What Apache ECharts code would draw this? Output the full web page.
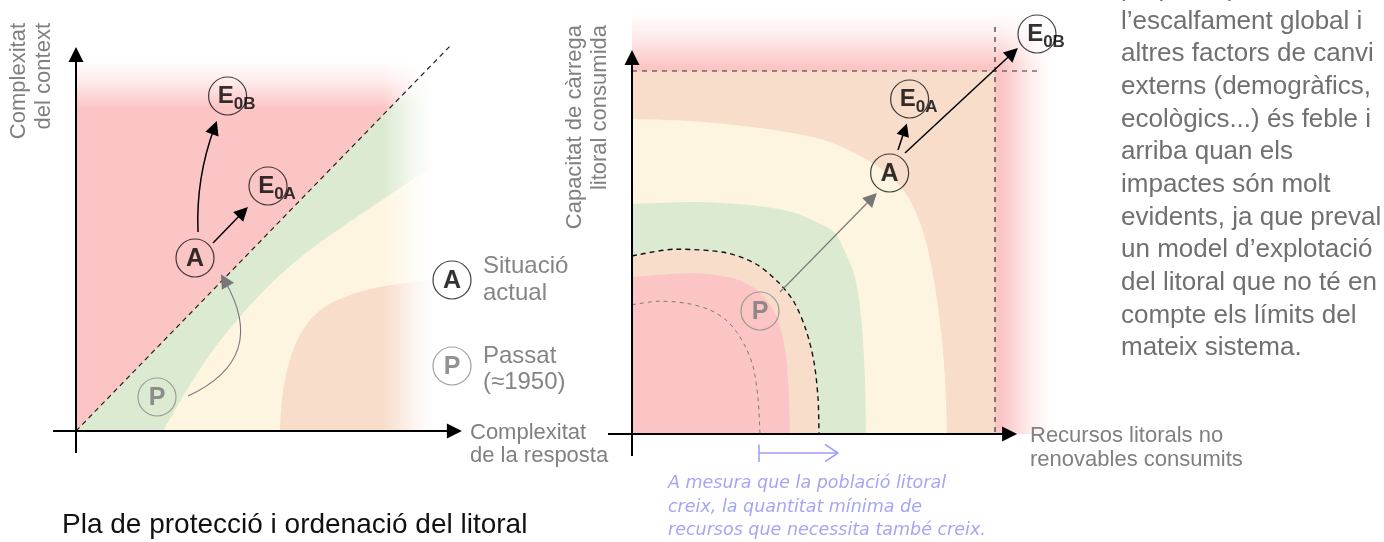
<!DOCTYPE html>
<html><head><meta charset="utf-8">
<script src="https://cdn.jsdelivr.net/npm/echarts@6/dist/echarts.min.js"></script>
<style>html,body{margin:0;padding:0;background:#fff}#c{width:1384px;height:542px}</style>
</head><body><div id="c"></div>
<script>
// ================= DATA (abstract units, same scale on both axes) =================
// Left diagram: complexity of context vs complexity of response
const leftDiagonal   = [[0,0],[93.75,96.5]];
const leftField      = [[0,92.5],[89.5,92.5]];
const leftBelowDiag  = [[0,0],[89.5,92.1]];
const leftGreenEdge  = [[21.75,0],[25.5,6.5],[29.75,13.5],[34.25,20.25],[39.25,26.5],[44.75,32.75],[51,39],[58.5,45.25],[67.25,51.5],[77.25,58.25],[89.5,66.5]];
const leftSalmonEdge = [[51,0],[51.5,7.75],[52.75,15.25],[55,22],[58.5,27.75],[63,31.5],[68.5,34],[74.75,35.75],[82.25,37],[89.5,37.75]];
const leftAxisX = [[-5.75,0],[94.6,0]];
const leftAxisY = [[0,-5.5],[0,94.1]];
const leftMarks   = [['E','0B',[37.9,83.75]],['E','0A',[48,61.25]],['A','',[29.75,43.25]],['A','',[94,37.75]]];
const leftPast    = [['P','',[20.25,8.5]],['P','',[94,16.25]]];
const leftArrowAE0A = [[34.25,47],[41.76,54.76]];
const leftArrowAE0B = [[30.5,49.75],[34.6,75.85]];
const leftArrowPA   = [[28,8.75],[37.1,37.7]];

// Right diagram: consumed carrying capacity vs consumed non-renewable resources
const rightField      = [[0,105.25],[104.5,105.25]];
const rightSquare     = [[0,90.75],[90.75,90.75]];
const rightBeigeEdge  = [[0,78.75],[15,78.2],[32,76.5],[48,73.5],[58,69],[64.5,64.5],[69.5,58.5],[73.5,48],[76.5,32],[78.2,15],[78.75,0]];
const rightGreenEdge  = [[0,57.5],[15,58],[30,57.2],[40,55.5],[46.5,52.8],[50.5,50.5],[52.8,46.5],[55.5,40],[57.2,30],[58.2,15],[58.5,0]];
const rightDashEdge   = [[0,44.5],[11,46.2],[23.5,45.3],[31,42.5],[36.5,38],[40.5,33],[43.5,26],[45.5,18],[46.5,9],[46.75,0]];
const rightRedEdge    = [[0,39.3],[15,40.2],[25,39],[30.5,36.5],[34,33],[36.5,28.5],[38.3,21],[39.2,11],[39.5,0]];
const rightGrayEdge   = [[0,32.3],[7,33.2],[14,32.6],[19.5,31],[23.5,28.5],[26.3,25.3],[28.5,21.5],[30.3,16.7],[31.5,9],[32,0]];
const rightLimitH = [[0,90.75],[101.5,90.75]];
const rightLimitV = [[90.75,101.75],[90.75,0]];
const rightAxisX = [[-6,0],[94.4,0]];
const rightAxisY = [[0,-5.5],[0,94.1]];
const rightMarks = [['E','0B',[101.25,100]],['E','0A',[69.4,83.75]],['A','',[64.4,65.25]]];
const rightPast  = [['P','',[32,30.75]]];
const rightArrowPA   = [[37,35.5],[60,59]];
const rightArrowAE0B = [[68.25,70.25],[95.2,95.3]];
const rightArrowAE0A = [[66.5,71],[68.2,76.1]];
const blueShaft = [[31.75,-4.75],[51.5,-4.75]];
const blueStop  = [[31.75,-2.6],[31.75,-7]];
const blueHead  = [[48.25,-2.6],[51.5,-4.75],[48.25,-6.9]];

// Texts
const leftYTitle  = 'Complexitat\ndel context';
const leftXTitle  = 'Complexitat\nde la resposta';
const rightYTitle = 'Capacitat de càrrega\nlitoral consumida';
const rightXTitle = 'Recursos litorals no\nrenovables consumits';
const legendA = 'Situació\nactual';
const legendP = 'Passat\n(≈1950)';
const paragraph = 'propiciat per\nl’escalfament global i\naltres factors de canvi\nexterns (demogràfics,\necològics...) és feble i\narriba quan els\nimpactes són molt\nevidents, ja que preval\nun model d’explotació\ndel litoral que no té en\ncompte els límits del\nmateix sistema.';
const mainTitle = 'Pla de protecció i ordenació del litoral';
const noteText = 'A mesura que la població litoral\ncreix, la quantitat mínima de\nrecursos que necessita també creix.';

// ================= STYLE / BUILD =================
const FF = '"Liberation Sans", Arial, Helvetica, sans-serif';
const C = {red:'#fcc5c5', green:'#dcead2', beige:'#fdf5e0', salmon:'#f8ddcb'};

function fill(g, pts, color, smooth) {
  return {type:'line', xAxisIndex:g, yAxisIndex:g, data:pts, smooth: smooth ? 0.3 : false,
    symbol:'none', silent:true, clip:false, z:1,
    lineStyle:{width:0, opacity:0}, areaStyle:{color:color, opacity:1}};
}
function stroke(g, pts, color, width, type, smooth, z) {
  return {type:'line', xAxisIndex:g, yAxisIndex:g, data:pts, smooth: smooth ? 0.3 : false,
    symbol:'none', silent:true, clip:false, z:z||3,
    lineStyle:{color:color, width:width, type:type}};
}
function arrow(g, coords, color, width, size, curveness) {
  return {type:'lines', coordinateSystem:'cartesian2d', xAxisIndex:g, yAxisIndex:g, silent:true, z:5,
    symbol:['none','triangle'], symbolSize:size,
    lineStyle:{color:color, width:width, curveness:curveness||0, opacity:1},
    data:[{coords:coords}]};
}
function fade(g, p0, p1, grad) {
  return {type:'custom', xAxisIndex:g, yAxisIndex:g, silent:true, clip:false, z:2, data:[p0],
    renderItem:function(params, api){
      const a = api.coord(p0), b = api.coord(p1);
      return {type:'rect', shape:{x:Math.min(a[0],b[0]), y:Math.min(a[1],b[1]),
        width:Math.abs(b[0]-a[0]), height:Math.abs(b[1]-a[1])},
        style:{fill:new echarts.graphic.LinearGradient(grad[0],grad[1],grad[2],grad[3],[
          {offset:0, color:'rgba(255,255,255,1)'},
          {offset:0.4, color:'rgba(255,255,255,0.7)'},
          {offset:1, color:'rgba(255,255,255,0)'}])}};
    }};
}
function circles(g, items, borderColor, textColor) {
  return {type:'scatter', xAxisIndex:g, yAxisIndex:g, silent:true, z:6, symbol:'circle', symbolSize:38,
    itemStyle:{color:'rgba(0,0,0,0)', borderColor:borderColor, borderWidth:1.2},
    data: items.map(function(it){
      const sub = it[1];
      return {value:it[2], label:{show:true, position:'inside',
        offset: sub ? [9,0] : [0,1],
        formatter: sub ? '{e|' + it[0] + '}{s|' + sub + '}' : '{e|' + it[0] + '}',
        rich:{
          e:{fontFamily:FF, fontSize: sub ? 24 : 25, fontWeight:'bold', color:textColor, verticalAlign:'middle'},
          s:{fontFamily:FF, fontSize:17, fontWeight:'bold', color:textColor, verticalAlign:'middle', padding:[16,0,0,0]}
        }}};
    })};
}

const series = [
  // left coloured field
  fill(0, leftField, C.red),
  fill(0, leftBelowDiag, C.green),
  fill(0, leftGreenEdge.concat([[89.5,0]]), C.beige, true),
  fill(0, leftSalmonEdge.concat([[89.5,0]]), C.salmon, true),
  fade(0, [0,80.75], [89.5,92.6], [0,0,0,1]),
  fade(0, [76.75,0], [89.6,92.6], [1,0,0,0]),
  stroke(0, leftDiagonal, '#222', 1.2, [5,4], false),
  // right coloured field
  fill(1, rightField, C.red),
  fill(1, rightSquare, C.salmon),
  fill(1, rightBeigeEdge, C.beige, true),
  fill(1, rightGreenEdge, C.green, true),
  fill(1, rightDashEdge, C.salmon, true),
  fill(1, rightRedEdge, C.red, true),
  fade(1, [0,91.75], [104.6,105.3], [0,0,0,1]),
  fade(1, [92.5,0], [104.6,105.3], [1,0,0,0]),
  stroke(1, rightGrayEdge, '#7a7a7a', 1, [4,4], true),
  stroke(1, rightDashEdge, '#111', 1.4, [5,4], true),
  stroke(1, rightLimitH, '#333', 1.2, [5,5], false),
  stroke(1, rightLimitV, '#333', 1.2, [5,5], false),
  // axes
  arrow(0, leftAxisX, '#000', 2, 15),
  arrow(0, leftAxisY, '#000', 2, 15),
  arrow(1, rightAxisX, '#000', 2, 15),
  arrow(1, rightAxisY, '#000', 2, 15),
  // trajectories
  arrow(0, leftArrowAE0A, '#000', 1.5, 14),
  arrow(0, leftArrowAE0B, '#000', 1.5, 14, 0.1),
  arrow(0, leftArrowPA, '#777', 1.1, 14, -0.55),
  arrow(1, rightArrowPA, '#777', 1.1, 14),
  arrow(1, rightArrowAE0B, '#000', 1.5, 14),
  arrow(1, rightArrowAE0A, '#000', 1.5, 13),
  stroke(1, blueShaft, '#9d9df5', 1.5, 'solid', false, 5),
  stroke(1, blueStop, '#9d9df5', 1.5, 'solid', false, 5),
  stroke(1, blueHead, '#9d9df5', 1.5, 'solid', false, 5),
  // state circles
  circles(0, leftMarks, '#111', '#000'),
  circles(0, leftPast, '#8a8a8a', '#777'),
  circles(1, rightMarks, '#111', '#000'),
  circles(1, rightPast, '#8a8a8a', '#777')
];

function txt(text, x, y, font, fill, opts) {
  return Object.assign({type:'text', x:x, y:y, z:100, silent:true,
    style:Object.assign({text:text, font:font, fill:fill, align:'left', verticalAlign:'middle'}, opts && opts.style)},
    opts && opts.el);
}

const graphic = [
  txt(leftYTitle, 31.8, 23, '22px ' + FF, '#808080', {el:{rotation:Math.PI/2}, style:{align:'right', lineHeight:25}}),
  txt(rightYTitle, 587.8, 25, '22px ' + FF, '#808080', {el:{rotation:Math.PI/2}, style:{align:'right', lineHeight:25}}),
  txt(leftXTitle, 470, 444, '22px ' + FF, '#808080', {style:{lineHeight:23}}),
  txt(rightXTitle, 1030, 448, '22px ' + FF, '#808080', {style:{lineHeight:24}}),
  txt(legendA, 483, 280, '24px ' + FF, '#858585', {style:{lineHeight:26.7}}),
  txt(legendP, 483, 369.6, '24px ' + FF, '#858585', {style:{lineHeight:26}}),
  txt(paragraph, 1121, -27.5, '26px ' + FF, '#707070', {style:{verticalAlign:'top', lineHeight:32.67}}),
  txt(mainTitle, 62, 525, '28px ' + FF, '#111', {}),
  txt(noteText, 668, 507, 'italic 200 17.5px "DejaVu Sans", sans-serif', '#a5a5f5', {style:{lineHeight:23.5}})
];

const chart = echarts.init(document.getElementById('c'), null, {renderer:'canvas'});
chart.setOption({
  animation:false,
  backgroundColor:'#fff',
  grid:[{left:36, top:11, width:440, height:460}, {left:592, top:10, width:464, height:464}],
  xAxis:[{gridIndex:0, type:'value', min:-10, max:100, show:false},
         {gridIndex:1, type:'value', min:-10, max:106, show:false}],
  yAxis:[{gridIndex:0, type:'value', min:-10, max:105, show:false},
         {gridIndex:1, type:'value', min:-10, max:106, show:false}],
  series:series,
  graphic:graphic
});
</script></body></html>
